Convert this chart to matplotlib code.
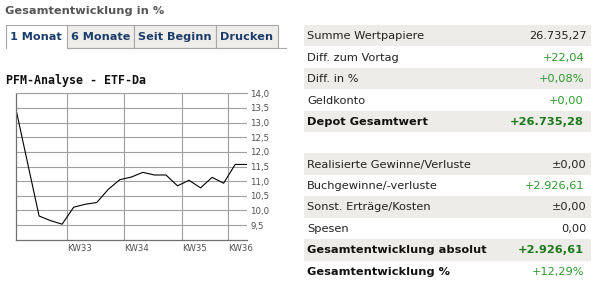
import matplotlib.pyplot as plt
import matplotlib.transforms as mtrans
from matplotlib.patches import Rectangle

# ? Performance in %, one value per trading day
days = list(range(21))
values = [13.45, 11.63, 9.81, 9.65, 9.53, 10.11, 10.21, 10.27, 10.72, 11.05,
          11.14, 11.30, 11.21, 11.21, 10.84, 11.03, 10.77, 11.13, 10.93,
          11.57, 11.57]

# ? Calendar weeks (start of the week on the day axis)
week_pos = [4.4, 9.4, 14.4, 18.4]
week_labels = ["KW33", "KW34", "KW35", "KW36"]

y_ticks = [9.5, 10.0, 10.5, 11.0, 11.5, 12.0, 12.5, 13.0, 13.5, 14.0]
y_labels = ["9,5", "10,0", "10,5", "11,0", "11,5",
            "12,0", "12,5", "13,0", "13,5", "14,0"]

tabs = ["1 Monat", "6 Monate", "Seit Beginn", "Drucken"]

top_labels = ["Summe Wertpapiere", "Diff. zum Vortag", "Diff. in %",
              "Geldkonto", "Depot Gesamtwert"]
top_values = ["26.735,27", "+22,04", "+0,08%", "+0,00", "+26.735,28"]

bottom_labels = ["Realisierte Gewinne/Verluste", "Buchgewinne/-verluste",
                 "Sonst. Erträge/Kosten", "Spesen",
                 "Gesamtentwicklung absolut", "Gesamtentwicklung %"]
bottom_values = ["±0,00", "+2.926,61", "±0,00", "0,00",
                 "+2.926,61", "+12,29%"]

# ? Rows with a bold label, and rows whose value is bold too
bold_rows = ["Depot Gesamtwert", "Gesamtentwicklung absolut",
             "Gesamtentwicklung %"]
bold_values = ["Depot Gesamtwert", "Gesamtentwicklung absolut"]

W, H = 600, 289
ROW_BG = "#edece8"
GREEN = "#2a9a2a"
GREEN_BOLD = "#1a7a1a"


def draw_table(bg, labels, vals, top):
    row_h = 21.45
    for i, (lab, val) in enumerate(zip(labels, vals)):
        y0 = top + i * row_h
        if i % 2 == 0:
            bg.add_patch(Rectangle((304, y0), 286.7, row_h,
                                   color=ROW_BG, lw=0))
        bold = lab in bold_rows
        vbold = lab in bold_values
        yc = y0 + row_h / 2 + 0.5
        bg.text(307.3, yc, lab, fontsize=8.2,
                weight="bold" if bold else "normal",
                color="#111111" if bold else "#222222",
                ha="left", va="center")
        if val.startswith("+"):
            col = GREEN_BOLD if vbold else GREEN
            xr = 584
        else:
            col = "#222222"
            xr = 586.5
        bg.text(xr, yc, val, fontsize=8.2,
                weight="bold" if vbold else "normal", color=col,
                ha="right", va="center")


def main():
    fig = plt.figure(figsize=(W / 100, H / 100), dpi=100)
    fig.patch.set_facecolor("white")

    # * Background layer in pixel coordinates
    bg = fig.add_axes([0, 0, 1, 1])
    bg.set_xlim(0, W)
    bg.set_ylim(H, 0)
    bg.axis("off")

    bg.text(5, 10.5, "Gesamtentwicklung in %", fontsize=8.2,
            weight="bold", color="#555555", ha="left", va="center")

    # * Tabs
    edges = [5.7, 66.7, 134.3, 215.7, 277.7]
    border = "#a8a8a8"
    for i, name in enumerate(tabs):
        x0, x1 = edges[i], edges[i + 1]
        if i > 0:
            bg.add_patch(Rectangle((x0, 25), x1 - x0, 23.3,
                                   facecolor="#eeede9", edgecolor=border,
                                   lw=0.8))
        bg.text((x0 + x1) / 2, 37.5, name, fontsize=8.1, weight="bold",
                color="#1c3d6b", ha="center", va="center")
    bg.plot([5.7, 5.7, 66.7], [48.3, 25, 25], color=border, lw=0.8)
    bg.plot([66.7, 286], [48.3, 48.3], color=border, lw=0.8)

    # * Chart
    bg.text(6.5, 80.5, "PFM-Analyse - ETF-Da", fontsize=8.4,
            weight="bold", family="DejaVu Sans Mono", color="#111111",
            ha="left", va="center")

    left, right, top, bottom = 16, 246.7, 93.3, 239.7
    ax = fig.add_axes([left / W, 1 - bottom / H,
                       (right - left) / W, (bottom - top) / H])
    ax.plot(days, values, color="black", lw=0.8)
    ax.set_xlim(0, 20)
    ax.set_ylim(9.0, 14.0)

    ax.set_yticks(y_ticks)
    ax.set_yticklabels(y_labels)
    ax.yaxis.tick_right()
    ax.set_xticks(week_pos)
    ax.set_xticklabels(week_labels, ha="left")
    shift = mtrans.ScaledTranslation(-6 / 100, 0, fig.dpi_scale_trans)
    for lbl in ax.get_xticklabels():
        lbl.set_transform(lbl.get_transform() + shift)
    ax.tick_params(length=0, labelsize=6.2, labelcolor="#505050")
    ax.tick_params(axis="y", pad=2.4)
    ax.tick_params(axis="x", pad=3.4)

    ax.grid(True, color="#a0a0a0", lw=0.8)
    ax.set_axisbelow(True)
    for side in ["left", "bottom"]:
        ax.spines[side].set_color("#707070")
        ax.spines[side].set_linewidth(0.9)
    ax.spines["top"].set_color("#a0a0a0")
    ax.spines["top"].set_linewidth(0.8)
    ax.spines["right"].set_visible(False)

    # * Summary tables
    draw_table(bg, top_labels, top_values, 25)
    draw_table(bg, bottom_labels, bottom_values, 153.3)

    fig.savefig("out.png", dpi=100, facecolor="white")


if __name__ == "__main__":
    main()
